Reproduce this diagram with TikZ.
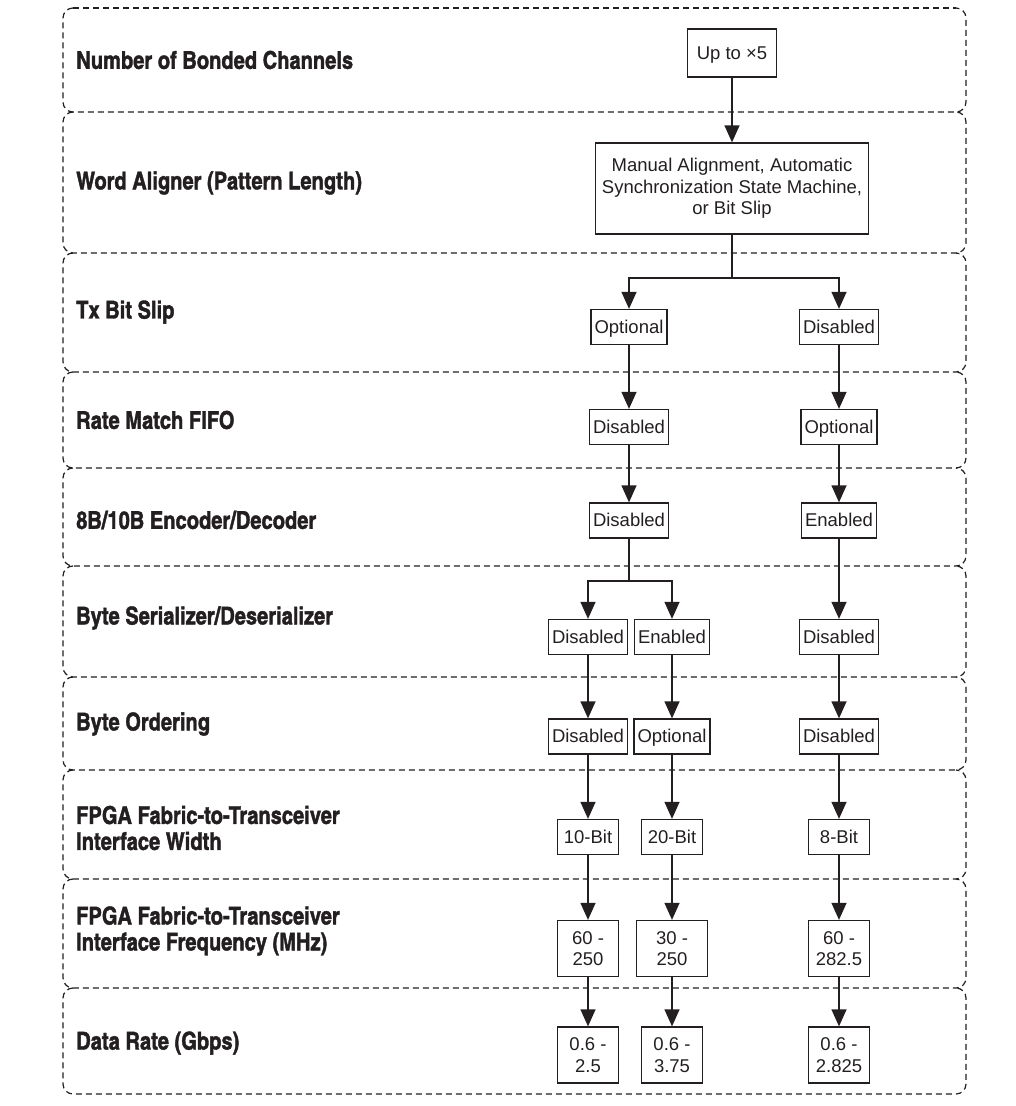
\documentclass[tikz,border=0pt]{standalone}
\usepackage{fontspec}
\setmainfont{Liberation Sans}
\newfontfamily\labelfont{texgyreheroscn-bold.otf}[FakeBold=1.5]
\usetikzlibrary{arrows.meta}
\definecolor{inkgray}{RGB}{35,31,32}

\begin{document}
\begin{tikzpicture}[x=1pt, y=-1pt,
  band/.style={draw=inkgray, line width=1.2pt, dash pattern=on 6pt off 4pt, rounded corners=10pt},
  rowlabel/.style={anchor=west, align=left, text=inkgray, inner sep=0pt,
                   font=\labelfont\fontsize{24.5}{26}\selectfont},
  box/.style={rectangle, draw=inkgray, line width=1.3pt, align=center, text=inkgray,
              inner xsep=3.5pt, inner ysep=0pt, minimum width=61pt, minimum height=35pt,
              text height=13pt, text depth=1pt, font=\fontsize{18.5}{21.5}\selectfont},
  multi/.style={text height=, text depth=},
  tall/.style={multi, minimum height=56pt},
  arrow/.style={-{Triangle[length=17pt,width=15pt]}, line width=1.3pt, draw=inkgray}
]
\useasboundingbox (0,0) rectangle (1016,1106);

% dashed bands
\draw[band] (73,8) -- (956,8);
\foreach \ytop/\ybot in {8/112, 112/253, 253/372, 372/468, 468/566, 566/677, 677/770, 770/879, 879/988, 988/1094}
  \draw[band] (73,\ytop) -| (63,\ybot) -| (966,\ytop) -- (956,\ytop);

% row labels
\node[rowlabel] (lchan) at (76,60) {Number of Bonded Channels};
\node[rowlabel] (lalign) at (76,183) {Word Aligner (Pattern Length)};
\node[rowlabel] (lslip) at (76,312) {Tx Bit Slip};
\node[rowlabel] (lrate) at (76,420) {Rate Match FIFO};
\node[rowlabel] (lcode) at (76,520) {8B/10B Encoder/Decoder};
\node[rowlabel] (lser) at (76,618) {Byte Serializer/Deserializer};
\node[rowlabel] (lord) at (76,724) {Byte Ordering};
\node[rowlabel] (lwidth) at (76,828) {FPGA Fabric-to-Transceiver\\Interface Width};
\node[rowlabel] (lfreq) at (76,931) {FPGA Fabric-to-Transceiver\\Interface Frequency (MHz)};
\node[rowlabel] (ldata) at (76,1043) {Data Rate (Gbps)};

% option boxes
\node[box, minimum width=89pt, minimum height=48pt] (up) at (732,53) {Up to ×5};
\node[box, multi, minimum width=273pt, minimum height=91pt] (align) at (732,188.5)
  {Manual Alignment, Automatic\\Synchronization State Machine,\\or Bit Slip};
\node[box] (txopt) at (629,327) {Optional};
\node[box] (txdis) at (839,327) {Disabled};
\node[box] (rmdis) at (629,427) {Disabled};
\node[box] (rmopt) at (839,427) {Optional};
\node[box] (encdis) at (629,520.5) {Disabled};
\node[box] (encen) at (839,520.5) {Enabled};
\node[box] (serdis) at (588,637) {Disabled};
\node[box] (seren) at (672,637) {Enabled};
\node[box] (serdisb) at (839,637) {Disabled};
\node[box] (orddis) at (588,736.5) {Disabled};
\node[box] (ordopt) at (672,736.5) {Optional};
\node[box] (orddisb) at (839,736.5) {Disabled};
\node[box] (wten) at (588,837) {10-Bit};
\node[box] (wtwenty) at (672,837) {20-Bit};
\node[box] (weight) at (839,837) {8-Bit};
\node[box, tall] (fa) at (588,948.5) {60 -\\250};
\node[box, tall, minimum width=71pt] (fb) at (672,948.5) {30 -\\250};
\node[box, tall] (fc) at (839,948.5) {60 -\\282.5};
\node[box, tall] (da) at (588,1055) {0.6 -\\2.5};
\node[box, tall] (db) at (672,1055) {0.6 -\\3.75};
\node[box, tall] (dc) at (839,1055) {0.6 -\\2.825};

\coordinate (split1) at (732,278);
\coordinate (split2) at (629,581);

% connectors
\draw[arrow] (up) -- (align);
\draw[arrow, -] (align) -- (split1);
\draw[arrow] (split1) -| (txopt);
\draw[arrow] (split1) -| (txdis);
\draw[arrow] (txopt) -- (rmdis);
\draw[arrow] (rmdis) -- (encdis);
\draw[arrow] (txdis) -- (rmopt);
\draw[arrow] (rmopt) -- (encen);
\draw[arrow, -] (encdis) -- (split2);
\draw[arrow] (split2) -| (serdis);
\draw[arrow] (split2) -| (seren);
\draw[arrow] (encen) -- (serdisb);
\draw[arrow] (serdis) -- (orddis);
\draw[arrow] (seren) -- (ordopt);
\draw[arrow] (serdisb) -- (orddisb);
\draw[arrow] (orddis) -- (wten);
\draw[arrow] (ordopt) -- (wtwenty);
\draw[arrow] (orddisb) -- (weight);
\draw[arrow] (wten) -- (fa);
\draw[arrow] (wtwenty) -- (fb);
\draw[arrow] (weight) -- (fc);
\draw[arrow] (fa) -- (da);
\draw[arrow] (fb) -- (db);
\draw[arrow] (fc) -- (dc);
\end{tikzpicture}
\end{document}
